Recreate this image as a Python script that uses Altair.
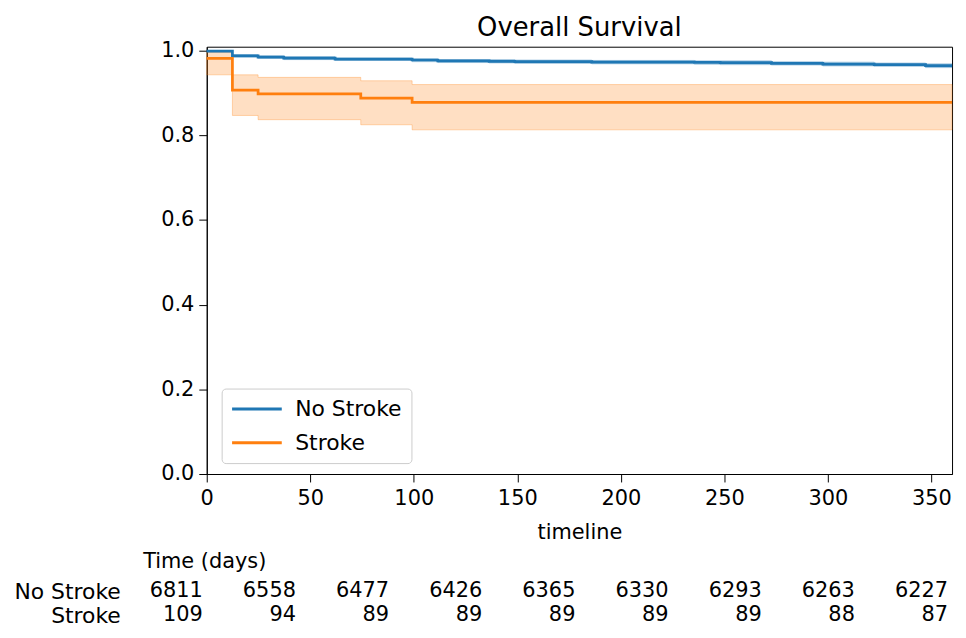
import altair as alt
import pandas as pd

# --- Kaplan-Meier estimates ---
groups = ["No Stroke", "Stroke"]
colors = ["#1f77b4", "#ff7f0e"]

no_t = [0, 12.4, 24.8, 37.2, 62.0, 99.2, 111.6, 136.4, 148.8, 186.0, 235.6, 248.0, 272.8, 297.6, 322.4, 347.2, 360]
no_s = [0.999, 0.988, 0.985, 0.9826, 0.980, 0.978, 0.9757, 0.975, 0.974, 0.9732, 0.9725, 0.9718, 0.9701, 0.9685, 0.967, 0.9647, 0.9647]
no_lo = [0.997, 0.985, 0.982, 0.979, 0.977, 0.974, 0.972, 0.971, 0.970, 0.969, 0.968, 0.967, 0.966, 0.964, 0.963, 0.960, 0.960]
no_hi = [1.0, 0.991, 0.988, 0.986, 0.983, 0.981, 0.979, 0.979, 0.978, 0.977, 0.976, 0.976, 0.974, 0.973, 0.971, 0.969, 0.969]

st_t = [0, 12.4, 24.8, 74.4, 99.2, 360]
st_s = [0.982, 0.907, 0.898, 0.888, 0.878, 0.878]
st_lo = [0.943, 0.847, 0.837, 0.825, 0.813, 0.813]
st_hi = [0.996, 0.943, 0.937, 0.929, 0.920, 0.920]

# --- number at risk table ---
risk_times = [0, 45, 90, 135, 180, 225, 270, 315, 360]
risk_no = [6811, 6558, 6477, 6426, 6365, 6330, 6293, 6263, 6227]
risk_st = [109, 94, 89, 89, 89, 89, 89, 88, 87]

x_ticks = [0, 50, 100, 150, 200, 250, 300, 350]
y_ticks = [0.0, 0.2, 0.4, 0.6, 0.8, 1.0]

rows = []
for t, s, lo, hi in zip(no_t, no_s, no_lo, no_hi):
    rows.append({"group": "No Stroke", "t": t, "s": s, "lo": lo, "hi": hi})
for t, s, lo, hi in zip(st_t, st_s, st_lo, st_hi):
    rows.append({"group": "Stroke", "t": t, "s": s, "lo": lo, "hi": hi})
km = pd.DataFrame(rows)

risk_rows = []
for t, n in zip(risk_times, risk_no):
    risk_rows.append({"row": "No Stroke", "t": t, "n": str(n)})
for t, n in zip(risk_times, risk_st):
    risk_rows.append({"row": "Stroke", "t": t, "n": str(n)})
risk = pd.DataFrame(risk_rows)

xscale = alt.Scale(domain=[0, 360], nice=False, zero=False)
yscale = alt.Scale(domain=[0, 1.0094], nice=False)

x_enc = alt.X("t:Q", scale=xscale,
              axis=alt.Axis(values=x_ticks, title="timeline", labelFlush=False,
                            tickSize=8, labelPadding=6, titlePadding=13))
y_enc = alt.Y("s:Q", scale=yscale,
              axis=alt.Axis(values=y_ticks, format=".1f", title=None,
                            tickSize=8, labelPadding=5))


def band(name, color):
    return alt.Chart(km).transform_filter(alt.datum.group == name).mark_area(
        interpolate="step-after", color=color, fillOpacity=0.25,
        stroke=color, strokeOpacity=0.3, strokeWidth=1,
    ).encode(x=x_enc, y=alt.Y("lo:Q", scale=yscale), y2="hi:Q")


lines = alt.Chart(km).mark_line(interpolate="step-after", strokeWidth=2.75).encode(
    x=x_enc,
    y=y_enc,
    color=alt.Color(
        "group:N",
        scale=alt.Scale(domain=groups, range=colors),
        legend=alt.Legend(
            title=None, orient="none", legendX=15, legendY=344, padding=9,
            strokeColor="#cccccc", cornerRadius=4, fillColor="white",
            symbolType="M-1,0H4", symbolSize=400, symbolStrokeWidth=3,
            labelFontSize=22, labelOffset=42, rowPadding=11, labelColor="black",
        ),
    ),
)

main = alt.layer(band("No Stroke", colors[0]), band("Stroke", colors[1]), lines).properties(
    width=750, height=430,
    title=alt.TitleParams("Overall Survival", fontSize=26, offset=-1, anchor="middle"),
)

table = alt.Chart(risk).mark_text(align="right", dx=-4, fontSize=21, color="black").encode(
    x=alt.X("t:Q", scale=xscale, axis=None),
    y=alt.Y("row:N", sort=groups, scale=alt.Scale(type="point", padding=0),
            axis=alt.Axis(title=None, domain=False, ticks=False, labelPadding=87,
                          labelFontSize=22)),
    text="n:N",
).properties(
    width=750, height=24,
    title=alt.TitleParams("Time (days)", fontSize=21, anchor="start", frame="group",
                          dx=-64, offset=8),
    view=alt.ViewBackground(stroke="transparent"),
)

chart = alt.vconcat(main, table, spacing=7).properties(
    padding={"left": 5, "top": 4, "right": 0, "bottom": 0}
).configure(font="DejaVu Sans").configure_view(stroke="black", strokeWidth=1).configure_axis(
    labelColor="black", titleColor="black", domainColor="black", tickColor="black",
    grid=False, labelFontSize=21, titleFontSize=21, titleFontWeight="normal",
).configure_title(fontWeight="normal", color="black")

chart.save("out.html", embed_options={"renderer": "svg", "actions": False})
